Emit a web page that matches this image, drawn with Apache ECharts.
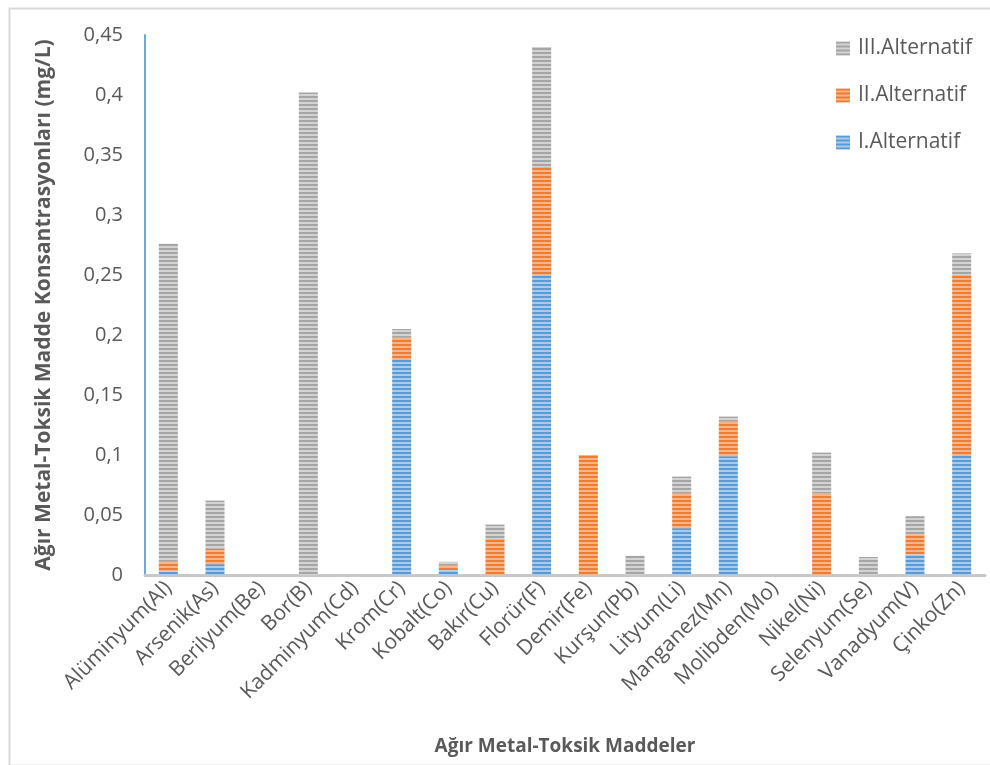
<!DOCTYPE html>
<html>
<head>
<meta charset="utf-8">
<script src="https://cdn.jsdelivr.net/npm/echarts@6/dist/echarts.min.js"></script>
<style>
  html, body { margin: 0; padding: 0; background: #fff; }
  #chart { width: 990px; height: 765px; }
</style>
</head>
<body>
<div id="chart"></div>
<script>
// Heavy metal / toxic substance concentrations (mg/L) per alternative
const categories = [
  'Alüminyum(Al)', 'Arsenik(As)', 'Berilyum(Be)', 'Bor(B)', 'Kadminyum(Cd)',
  'Krom(Cr)', 'Kobalt(Co)', 'Bakır(Cu)', 'Florür(F)', 'Demir(Fe)',
  'Kurşun(Pb)', 'Lityum(Li)', 'Manganez(Mn)', 'Molibden(Mo)', 'Nikel(Ni)',
  'Selenyum(Se)', 'Vanadyum(V)', 'Çinko(Zn)'
];
const alt1 = [0.003, 0.009, 0, 0, 0, 0.18, 0.004, 0, 0.25, 0, 0, 0.039, 0.099, 0, 0, 0, 0.017, 0.1];
const alt2 = [0.008, 0.013, 0, 0, 0, 0.018, 0.004, 0.03, 0.09, 0.1, 0, 0.029, 0.029, 0, 0.068, 0, 0.017, 0.15];
const alt3 = [0.265, 0.04, 0, 0.402, 0, 0.007, 0.003, 0.012, 0.10, 0, 0.016, 0.014, 0.004, 0, 0.034, 0.015, 0.015, 0.018];
const seriesNames = ['I.Alternatif', 'II.Alternatif', 'III.Alternatif'];
const yTicks = { min: 0, max: 0.45, step: 0.05 };

const FONT = '"Open Sans", "Noto Sans", sans-serif';
const TEXT = '#595959';

// Horizontal line fill like a striped pattern
function stripes(dark, light) {
  const c = document.createElement('canvas');
  c.width = 4; c.height = 4;
  const g = c.getContext('2d');
  g.fillStyle = light; g.fillRect(0, 0, 4, 4);
  g.fillStyle = dark; g.fillRect(0, 0, 4, 2);
  return { image: c, repeat: 'repeat' };
}
const fills = [
  stripes('#5B9BD5', '#A9CBEB'),
  stripes('#ED7D31', '#F5B48A'),
  stripes('#A5A5A5', '#D3D3D3')
];
const seriesData = [alt1, alt2, alt3];

const chart = echarts.init(document.getElementById('chart'), null, { renderer: 'canvas' });
chart.setOption({
  animation: false,
  backgroundColor: '#fff',
  graphic: [{
    type: 'rect', left: 7, top: 6, z: -1,
    shape: { width: 1000, height: 757 },
    style: { fill: 'none', stroke: '#D9D9D9', lineWidth: 2 }
  }],
  grid: { left: 145, right: 5, top: 35, bottom: 190 },
  legend: {
    orient: 'vertical', left: 831, top: 33,
    itemWidth: 14, itemHeight: 14, itemGap: 26,
    data: ['III.Alternatif', 'II.Alternatif', 'I.Alternatif'],
    icon: 'rect',
    textStyle: { fontFamily: FONT, fontSize: 21, color: TEXT, padding: [0, 0, 0, 3] }
  },
  xAxis: {
    type: 'category',
    data: categories,
    name: 'Ağır Metal-Toksik Maddeler',
    nameLocation: 'middle',
    nameGap: 162,
    nameTextStyle: { fontFamily: FONT, fontSize: 19, fontWeight: 'bold', color: TEXT },
    axisLine: { lineStyle: { color: '#C8C8C8', width: 3 } },
    axisTick: { show: false },
    axisLabel: { rotate: 45, interval: 0, margin: 10, fontFamily: FONT, fontSize: 21, color: TEXT }
  },
  yAxis: {
    type: 'value',
    min: yTicks.min, max: yTicks.max, interval: yTicks.step,
    name: 'Ağır Metal-Toksik Madde Konsantrasyonları (mg/L)',
    nameLocation: 'middle',
    nameGap: 90,
    nameTextStyle: { fontFamily: FONT, fontSize: 21, fontWeight: 'bold', color: TEXT },
    axisLine: { show: true, lineStyle: { color: '#6FA8DC', width: 2 } },
    axisTick: { show: false },
    splitLine: { show: false },
    axisLabel: {
      margin: 22, fontFamily: FONT, fontSize: 20, color: TEXT,
      formatter: v => String(Math.round(v * 100) / 100).replace('.', ',')
    }
  },
  series: seriesNames.map((n, i) => ({
    name: n,
    type: 'bar',
    stack: 'total',
    barWidth: 19,
    data: seriesData[i],
    itemStyle: { color: fills[i] }
  }))
});
</script>
</body>
</html>
